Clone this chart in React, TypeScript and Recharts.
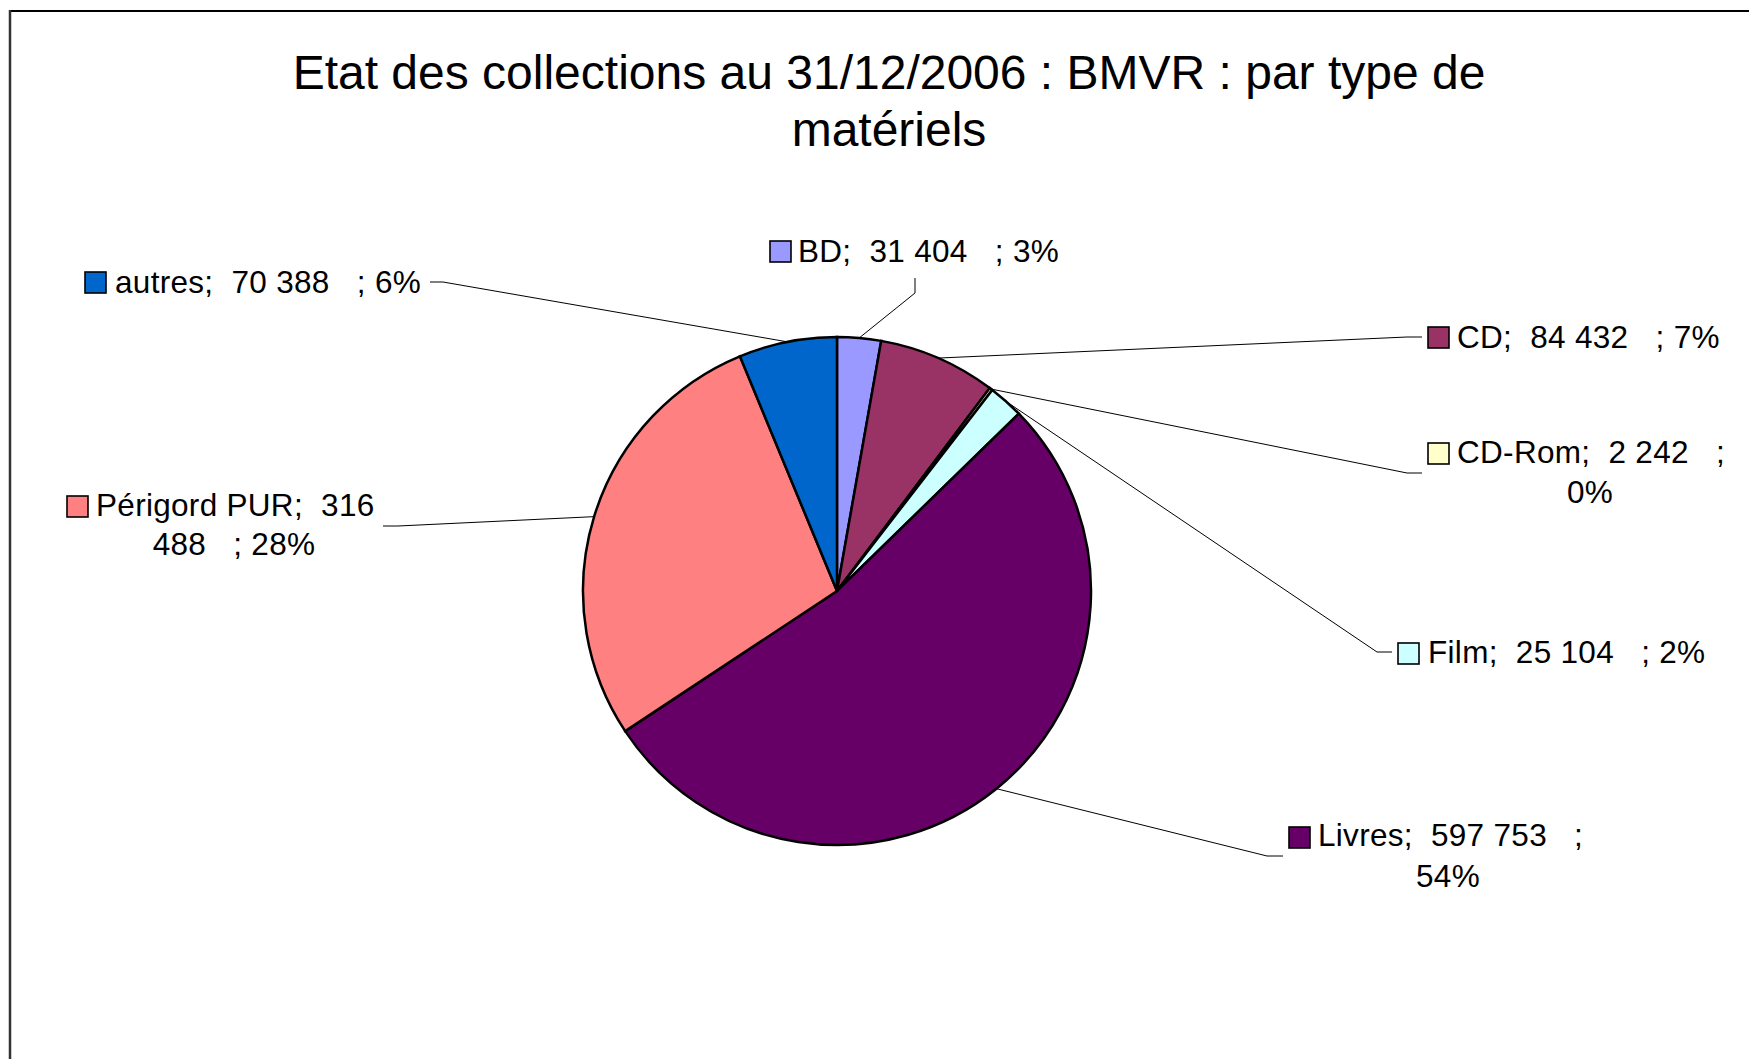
import React from 'react';
import { PieChart, Pie, Cell } from 'recharts';

// ---- data ----
const CATEGORIES = ['BD', 'CD', 'CD-Rom', 'Film', 'Livres', 'Périgord PUR', 'autres'];
const VALUES = [31404, 84432, 2242, 25104, 597753, 316488, 70388];
const PERCENT_LABELS = [3, 7, 0, 2, 54, 28, 6];
const COLORS = ['#9999FF', '#993366', '#FFFFCC', '#CCFFFF', '#660066', '#FF8080', '#0066CC'];
const TITLE_LINES = ['Etat des collections au 31/12/2006 : BMVR : par type de', 'matériels'];

const data = CATEGORIES.map((name, i) => ({ name, value: VALUES[i], pct: PERCENT_LABELS[i] }));

// ---- layout (label boxes, relative to pie centre) ----
const W = 1749;
const H = 1059;
const CX = 837;
const CY = 591;
const R = 254;
const FONT = '"Liberation Sans", Arial, Helvetica, sans-serif';
const LABEL_FONT_SIZE = 31.5;
const LABEL_SPACING = 0.3;
const SQ = 21;

type LabelLayout = {
  sx: number; sy: number; // square top-left
  tx: number; by: number; // text start x, first baseline
  wrap?: number; // chars in first line
  l2x?: number; l2y?: number; // centre x / baseline of 2nd line
  tail: [number, number];
  elbow: [number, number];
};

const LAYOUT: LabelLayout[] = [
  { sx: -67, sy: -350, tx: -39, by: -329, tail: [78, -313], elbow: [78, -298] },
  { sx: 591, sy: -264, tx: 620, by: -243, tail: [585, -254], elbow: [570, -254] },
  { sx: 591, sy: -148, tx: 620, by: -128, wrap: 18, l2x: 753, l2y: -88, tail: [585, -118], elbow: [570, -118] },
  { sx: 561, sy: 52, tx: 591, by: 72, tail: [555, 61], elbow: [540, 61] },
  { sx: 452, sy: 236, tx: 481, by: 255, wrap: 20, l2x: 611, l2y: 296, tail: [446, 265], elbow: [430, 265] },
  { sx: -770, sy: -95, tx: -741, by: -75, wrap: 18, l2x: -603, l2y: -36, tail: [-454, -65], elbow: [-439, -65] },
  { sx: -752, sy: -319, tx: -722, by: -298, tail: [-407, -309], elbow: [-394, -309] },
];

const fmt = (v: number) => v.toString().replace(/\B(?=(\d{3})+(?!\d))/g, ' ');

const RAD = Math.PI / 180;

const renderLabel = (props: any) => {
  const { cx, cy, midAngle, outerRadius, index } = props;
  const d = data[index];
  const lay = LAYOUT[index];
  const full = `${d.name};  ${fmt(d.value)}   ; ${d.pct}%`;
  let line1 = full;
  let line2: string | null = null;
  if (lay.wrap) {
    line1 = full.slice(0, lay.wrap);
    line2 = full.slice(lay.wrap).trim();
  }
  const px = cx + outerRadius * Math.cos(-midAngle * RAD);
  const py = cy + outerRadius * Math.sin(-midAngle * RAD);
  const pts = `${cx + lay.tail[0]},${cy + lay.tail[1]} ${cx + lay.elbow[0]},${cy + lay.elbow[1]} ${px},${py}`;
  return (
    <g key={`lbl-${index}`}>
      <polyline points={pts} fill="none" stroke="#000" strokeWidth={1} />
      <rect x={cx + lay.sx} y={cy + lay.sy} width={SQ} height={SQ} fill={COLORS[index]} stroke="#000" strokeWidth={1.6} />
      <text x={cx + lay.tx} y={cy + lay.by} fontFamily={FONT} fontSize={LABEL_FONT_SIZE} letterSpacing={LABEL_SPACING} fill="#000" style={{ whiteSpace: 'pre' }}>
        {line1}
      </text>
      {line2 !== null && (
        <text x={cx + (lay.l2x as number)} y={cy + (lay.l2y as number)} textAnchor="middle" fontFamily={FONT} fontSize={LABEL_FONT_SIZE} letterSpacing={LABEL_SPACING} fill="#000" style={{ whiteSpace: 'pre' }}>
          {line2}
        </text>
      )}
    </g>
  );
};

export default function App() {
  return (
    <div style={{ position: 'absolute', left: 0, top: 0, width: W, height: H, background: '#fff', overflow: 'hidden' }}>
      <PieChart width={W} height={H} margin={{ top: 0, right: 0, bottom: 0, left: 0 }}>
        <Pie
          data={data}
          dataKey="value"
          nameKey="name"
          cx={CX}
          cy={CY}
          outerRadius={R}
          innerRadius={0}
          startAngle={90}
          endAngle={-270}
          stroke="#000"
          strokeWidth={2.5}
          isAnimationActive={false}
          label={renderLabel}
          labelLine={false}
        >
          {data.map((d, i) => (
            <Cell key={d.name} fill={COLORS[i]} stroke="#000" strokeWidth={2.5} />
          ))}
        </Pie>
      </PieChart>
      <svg width={W} height={H} style={{ position: 'absolute', left: 0, top: 0, pointerEvents: 'none' }}>
        <line x1={10} y1={11} x2={W} y2={11} stroke="#000" strokeWidth={2} />
        <line x1={10} y1={10} x2={10} y2={H} stroke="#333" strokeWidth={2.5} />
        {TITLE_LINES.map((t, i) => (
          <text key={i} x={889} y={89 + i * 57} textAnchor="middle" fontFamily={FONT} fontSize={48} fill="#000">
            {t}
          </text>
        ))}
      </svg>
    </div>
  );
}
